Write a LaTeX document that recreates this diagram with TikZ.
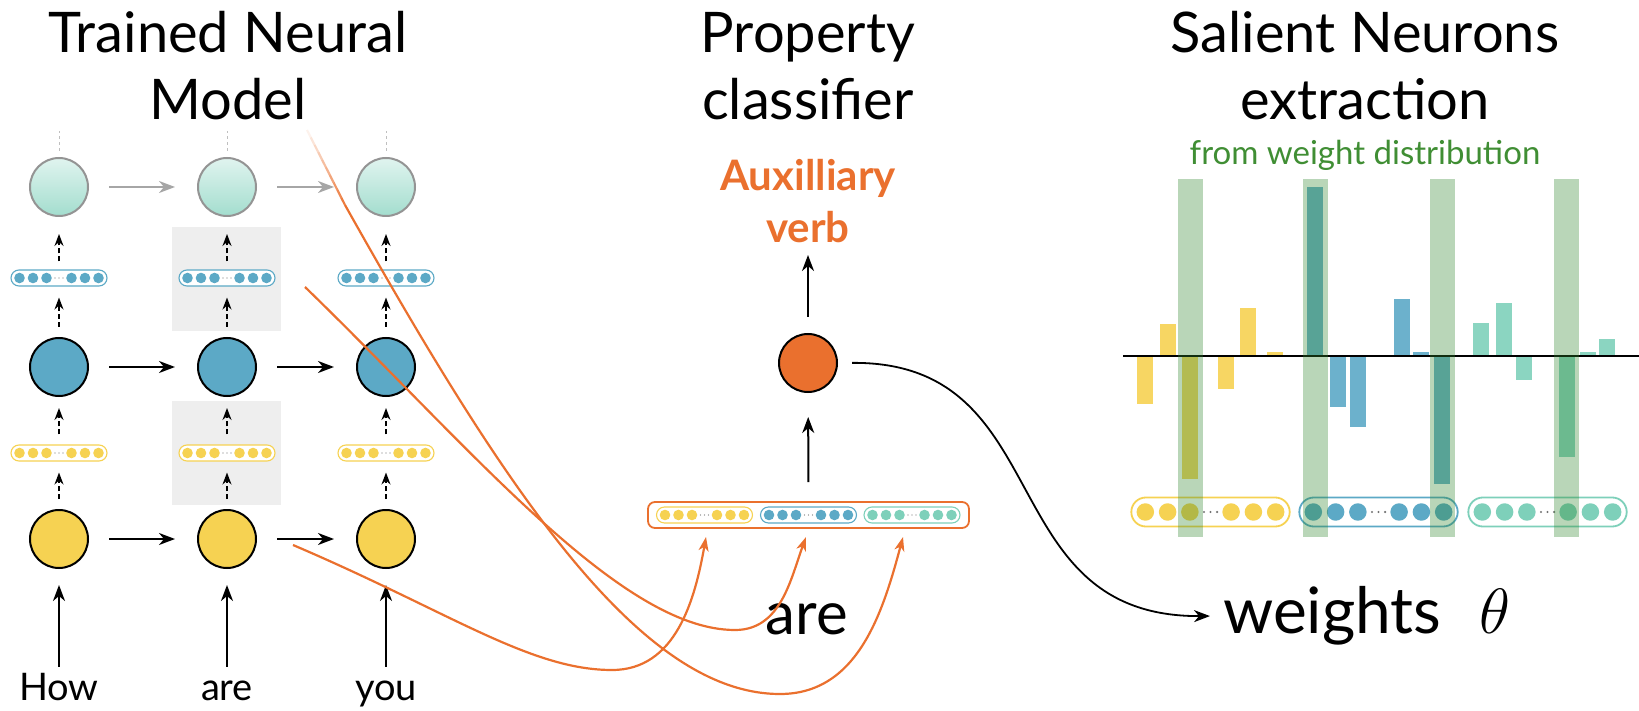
\documentclass[tikz,border=0pt]{standalone}
\usepackage{fix-cm}
\usepackage{fontspec}
\setmainfont{Lato}
\usetikzlibrary{arrows.meta,calc,positioning,shapes.misc}

\definecolor{nyellow}{RGB}{246,210,82}
\definecolor{nblue}{RGB}{92,169,198}
\definecolor{nteal}{RGB}{126,208,186}
\definecolor{ntealtop}{RGB}{224,244,239}
\definecolor{ntealbot}{RGB}{163,221,206}
\definecolor{norange}{RGB}{234,112,46}
\definecolor{nsalient}{RGB}{50,136,48}
\definecolor{nsubtext}{RGB}{64,142,52}
\definecolor{nshade}{RGB}{238,238,238}

\tikzset{
  cell/.style={circle, draw=black, line width=2pt, minimum size=58pt, inner sep=0pt},
  topcell/.style={circle, draw=black!42, line width=2pt, minimum size=58pt, inner sep=0pt, top color=ntealtop, bottom color=ntealbot},
  vecbox/.style={rounded rectangle, fill=white, inner sep=0pt},
  arrow/.style={line width=2pt, -{Stealth[length=16pt,width=12pt,inset=5pt]}},
  grayarrow/.style={arrow, draw=black!35},
  dasharrow/.style={line width=1.8pt, dash pattern=on 5pt off 3pt, -{Stealth[length=12pt,width=9pt,inset=4pt]}, shorten <=10pt, shorten >=11pt},
  feed/.style={line width=2.2pt, draw=norange, -{Stealth[length=14pt,width=10pt,inset=4pt]}},
  title/.style={font=\fontsize{56}{67}\selectfont, align=center, anchor=base, inner sep=0pt},
  word/.style={font=\fontsize{38}{40}\selectfont, anchor=base, inner sep=0pt, text height=.7em, text depth=.2em},
}

% a vector of neurons: name, x, y, colour, scale
\newcommand{\neurons}[5]{%
  \node[vecbox, draw=#4, line width=#5*1.1pt, minimum width=#5*96pt, minimum height=#5*20pt-4pt] (#1) at (#2,#3) {};
  \foreach \dx in {-39.5,-26,-12.5,12.5,26,39.5}
    \fill[#4] ($(#1)+(#5*\dx,0)$) circle ({#5*5.3pt});
  \foreach \dx in {-4,0,4}
    \fill[black!55] ($(#1)+(#5*\dx,0)$) circle ({#5*0.7pt});
}

\begin{document}
\begin{tikzpicture}[x=1pt, y=-1pt]
  \useasboundingbox (0,0) rectangle (1639,711);

  % shaded blocks behind the middle time step
  \fill[nshade] (172,227) rectangle (281,331);
  \fill[nshade] (172,401) rectangle (281,505);

  % recurrent model
  \node[title] (ttl1) at (228,120) {Trained Neural\\Model};
  \foreach \i/\x in {1/59, 2/227, 3/386} {
    \node[cell, fill=nyellow] (y\i) at (\x,539) {};
    \node[cell, fill=nblue] (b\i) at (\x,367) {};
    \node[topcell] (t\i) at (\x,187) {};
    \neurons{yv\i}{\x}{453}{nyellow}{1}
    \neurons{bv\i}{\x}{278}{nblue}{1}
    \draw[dasharrow] (y\i) -- (yv\i);
    \draw[dasharrow] (yv\i) -- (b\i);
    \draw[dasharrow] (b\i) -- (bv\i);
    \draw[dasharrow, shorten <=8pt, shorten >=17pt] (bv\i) -- (t\i);
    \draw[black!25, line width=1pt, dashed] ([yshift=6pt]t\i.north) -- ++(0,-20);
  }
  \node[word] (w1) at (59,700) {How};
  \node[word] (w2) at (227,700) {are};
  \node[word] (w3) at (386,700) {you};
  \foreach \i in {1,2,3}
    \draw[arrow, shorten <=26pt, shorten >=16pt] (w\i) -- (y\i);
  \foreach \i/\j in {1/2, 2/3} {
    \draw[arrow, shorten <=20pt, shorten >=22pt] (y\i) -- (y\j);
    \draw[arrow, shorten <=20pt, shorten >=22pt] (b\i) -- (b\j);
    \draw[grayarrow, shorten <=20pt, shorten >=22pt] (t\i) -- (t\j);
  }

  % property classifier
  \node[title] (ttl2) at (808,120) {Property\\classifier};
  \node[cell, fill=norange] (prop) at (808,363) {};
  \node[draw=norange, line width=1.8pt, rounded corners=7pt, minimum width=321pt, minimum height=26pt, inner sep=0pt] (concat) at (808.5,515) {};
  \neurons{cy}{704.5}{515}{nyellow}{1}
  \neurons{cb}{808.5}{515}{nblue}{1}
  \neurons{ct}{912}{515}{nteal}{1}
  \node[font=\fontsize{42}{52}\selectfont\bfseries, text=norange, align=center, anchor=south, inner sep=0pt] (aux) at (808,243) {Auxilliary\\verb};
  \node[font=\fontsize{60}{66}\selectfont, anchor=base, inner sep=0pt] (tok) at (807,634) {are};
  \draw[arrow, shorten <=19pt, shorten >=24pt] (concat) -- (prop);
  \draw[arrow, shorten <=16pt, shorten >=12pt] (prop) -- (aux);

  % hidden states fed into the classifier
  \coordinate (fadeA) at (307,130);
  \coordinate (fadeB) at (345,205);
  \coordinate (startB) at (305,287);
  \coordinate (startY) at (293,545);
  \coordinate (tipY) at (706,537);
  \coordinate (tipB) at (806,537);
  \coordinate (tipT) at (903,537);
  \foreach \i [evaluate=\i as \op using (\i+1)/11] in {0,...,9}
    \draw[norange, line width=2.2pt, opacity=\op] ($(fadeA)!\i/10!(fadeB)$) -- ($(fadeA)!\i/10+0.1!(fadeB)$);
  \draw[feed] (fadeB) .. controls (505,490) and (640,694) .. (780,694) to[out=0, in=-105] (tipT);
  \draw[feed] (startB) .. controls (470,447) and (620,630) .. (735,630) to[out=0, in=-110] (tipB);
  \draw[feed] (startY) .. controls (450,612) and (530,670) .. (612,670) to[out=0, in=-100] (tipY);

  % salient neurons
  \node[title] (ttl3) at (1365,120) {Salient Neurons\\extraction};
  \node[font=\fontsize{33}{34}\selectfont, text=nsubtext, anchor=base, inner sep=0pt] (sub) at (1365,165) {from weight distribution};
  \node[font=\fontsize{64}{66}\selectfont, anchor=west, inner sep=0pt] (wt) at (1223,616) {weights\hspace{.6em}$\theta$};
  \draw[arrow, line width=1.8pt, shorten <=14pt, shorten >=13pt] (prop.east) .. controls (1060,361) and (990,617) .. (wt.west);

  \foreach \x/\h/\c in {1145/404/nyellow, 1168/324/nyellow, 1190/479/nyellow, 1226/389/nyellow, 1248/308/nyellow, 1275/352/nyellow,
                        1315/187/nblue, 1338/407/nblue, 1358/427/nblue, 1402/299/nblue, 1421/352/nblue, 1442/484/nblue,
                        1481/323/nteal, 1504/303/nteal, 1524/380/nteal, 1567/457/nteal, 1588/352/nteal, 1607/339/nteal}
    \fill[\c!90] (\x-8,356) rectangle (\x+8,\h);
  \draw[line width=2pt] (1123,356) -- (1639,356);
  \neurons{ry}{1210.5}{512}{nyellow}{1.65}
  \neurons{rb}{1378.5}{512}{nblue}{1.65}
  \neurons{rt}{1547.5}{512}{nteal}{1.65}
  \foreach \x in {1190.5, 1315.5, 1442.5, 1566.5}
    \fill[nsalient, opacity=.34] (\x-12.5,179) rectangle (\x+12.5,537);
\end{tikzpicture}
\end{document}
